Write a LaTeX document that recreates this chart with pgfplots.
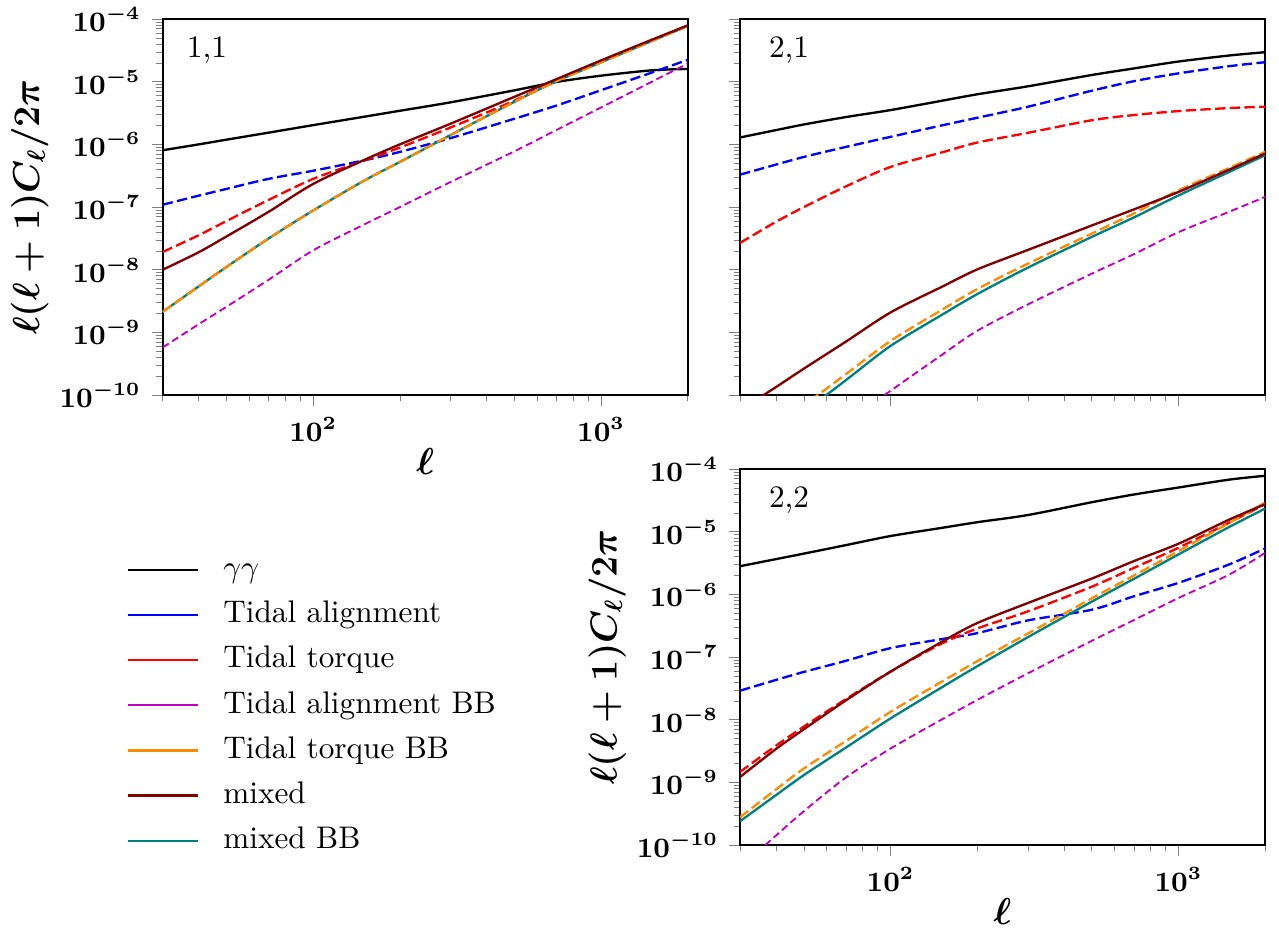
\documentclass[border=0pt]{standalone}
\usepackage{pgfplots}
\pgfplotsset{compat=1.18}

\definecolor{cTA}{rgb}{0,0,1}
\definecolor{cTT}{rgb}{1,0,0}
\definecolor{cTAB}{rgb}{0.75,0,0.75}
\definecolor{cTTB}{RGB}{255,140,0}
\definecolor{cMix}{RGB}{128,0,0}
\definecolor{cMixB}{RGB}{0,128,128}

\pgfplotsset{
  every axis/.append style={
    scale only axis, width=168pt, height=120.3pt,
    xmode=log, ymode=log, xmin=30, xmax=2000, ymin=1e-10, ymax=1e-4,
    xtick={100,1000},
    minor xtick={30,40,50,60,70,80,90,200,300,400,500,600,700,800,900,2000},
    ytick={1e-10,1e-9,1e-8,1e-7,1e-6,1e-5,1e-4},
    minor ytick={2e-10,3e-10,4e-10,5e-10,6e-10,7e-10,8e-10,9e-10,
                 2e-9,3e-9,4e-9,5e-9,6e-9,7e-9,8e-9,9e-9,
                 2e-8,3e-8,4e-8,5e-8,6e-8,7e-8,8e-8,9e-8,
                 2e-7,3e-7,4e-7,5e-7,6e-7,7e-7,8e-7,9e-7,
                 2e-6,3e-6,4e-6,5e-6,6e-6,7e-6,8e-6,9e-6,
                 2e-5,3e-5,4e-5,5e-5,6e-5,7e-5,8e-5,9e-5},
    tick align=outside, tick pos=left,
    major tick length=3.5pt, minor tick length=2pt,
    axis line style={line width=0.65pt},
    tick label style={font=\fontsize{9.2}{11}\selectfont\boldmath},
    label style={font=\fontsize{12}{14}\selectfont\boldmath},
    xlabel style={at={(axis description cs:0.5,-0.176)}, anchor=center},
    ylabel style={at={(axis description cs:-0.253,0.5)}, anchor=center},
  },
}
\tikzset{
  gg/.style={black, line width=0.75pt, smooth},
  ta/.style={cTA, line width=0.75pt, dash pattern=on 3.3pt off 1.4pt, smooth},
  tt/.style={cTT, line width=0.75pt, dash pattern=on 3.3pt off 1.4pt, smooth},
  tab/.style={cTAB, line width=0.6pt, dash pattern=on 2.3pt off 1.3pt, smooth},
  ttb/.style={cTTB, line width=0.75pt, dash pattern=on 3.3pt off 1.4pt, smooth},
  mix/.style={cMix, line width=0.75pt, smooth},
  mixb/.style={cMixB, line width=0.75pt, smooth},
  plabel/.style={anchor=base west, inner sep=0pt, font=\fontsize{10}{12}\selectfont},
}

\begin{document}
\begin{tikzpicture}
\useasboundingbox (-52.06pt,-170.6pt) rectangle (357.2pt,126.4pt);

% ---------- 1,1 ----------
\begin{axis}[at={(0pt,0pt)}, anchor=south west,
    xlabel={$\ell$}, ylabel={$\ell(\ell+1)C_\ell/2\pi$},
    legend style={at={(axis description cs:-0.07,-0.4255)}, anchor=north west,
        draw=none, fill=none, inner sep=0pt, row sep=5.46pt, column sep=7.8pt,
        font=\fontsize{10}{12}\selectfont,
        nodes={inner sep=0pt, text height=7pt, text depth=2pt}},
    legend cell align=left,
    legend image code/.code={\draw[#1, line width=0.75pt] (0pt,0pt) -- (22.4pt,0pt);}]
\addplot[gg, forget plot] coordinates {(30,8.07e-7) (40,1.0e-6) (50,1.19e-6) (70,1.54e-6) (100,2.03e-6) (150,2.76e-6) (200,3.44e-6) (300,4.69e-6) (500,7.29e-6) (700,9.91e-6) (1000,1.25e-5) (1500,1.52e-5) (2000,1.60e-5)};
\addplot[ta, forget plot] coordinates {(30,1.09e-7) (40,1.52e-7) (50,1.95e-7) (70,2.82e-7) (100,3.8e-7) (150,5.55e-7) (200,7.59e-7) (300,1.26e-6) (500,2.57e-6) (700,4.17e-6) (1000,7.33e-6) (1500,1.4e-5) (2000,2.24e-5)};
\addplot[tt, forget plot] coordinates {(30,1.92e-8) (40,3.55e-8) (50,6.0e-8) (70,1.3e-7) (100,2.82e-7) (150,5.5e-7) (200,8.91e-7) (300,1.86e-6) (500,5.0e-6) (700,1.05e-5) (1000,2.09e-5) (1500,4.52e-5) (2000,7.76e-5)};
\addplot[tab, forget plot] coordinates {(30,5.75e-10) (40,1.35e-9) (50,2.57e-9) (70,6.92e-9) (100,2.04e-8) (150,5.25e-8) (200,1.0e-7) (300,2.51e-7) (500,7.76e-7) (700,1.7e-6) (1000,3.89e-6) (1500,1.0e-5) (2000,1.95e-5)};
\addplot[mixb, forget plot] coordinates {(30,2.13e-9) (40,5.42e-9) (50,1.11e-8) (70,3.15e-8) (100,8.83e-8) (150,2.63e-7) (200,5.25e-7) (300,1.41e-6) (500,4.79e-6) (700,1.02e-5) (1000,2.04e-5) (1500,4.47e-5) (2000,7.82e-5)};
\addplot[ttb, forget plot] coordinates {(30,2.13e-9) (40,5.42e-9) (50,1.11e-8) (70,3.15e-8) (100,8.83e-8) (150,2.63e-7) (200,5.25e-7) (300,1.41e-6) (500,4.79e-6) (700,1.02e-5) (1000,2.04e-5) (1500,4.47e-5) (2000,7.82e-5)};
\addplot[mix, forget plot] coordinates {(30,1.0e-8) (40,1.9e-8) (50,3.4e-8) (70,8.4e-8) (100,2.34e-7) (150,5.62e-7) (200,1.0e-6) (300,2.14e-6) (500,5.75e-6) (700,1.1e-5) (1000,2.19e-5) (1500,4.68e-5) (2000,7.94e-5)};
\node[plabel] at (axis description cs:0.045,0.899) {1,1};
\addlegendimage{black}
\addlegendimage{cTA}
\addlegendimage{cTT}
\addlegendimage{cTAB}
\addlegendimage{cTTB}
\addlegendimage{cMix}
\addlegendimage{cMixB}
\legend{$\gamma\gamma$, Tidal alignment, Tidal torque, Tidal alignment BB, Tidal torque BB, mixed, mixed BB}
\end{axis}

% ---------- 2,1 ----------
\begin{axis}[at={(184.74pt,0pt)}, anchor=south west, xticklabels={}, yticklabels={}]
\addplot[gg] coordinates {(30,1.29e-6) (40,1.69e-6) (50,2.08e-6) (70,2.73e-6) (100,3.53e-6) (150,4.95e-6) (200,6.3e-6) (300,8.45e-6) (500,1.28e-5) (700,1.63e-5) (1000,2.1e-5) (1500,2.62e-5) (2000,2.96e-5)};
\addplot[ta] coordinates {(30,3.29e-7) (40,4.76e-7) (50,6.31e-7) (70,9.12e-7) (100,1.32e-6) (150,2.0e-6) (200,2.66e-6) (300,3.99e-6) (500,7.19e-6) (700,1.02e-5) (1000,1.36e-5) (1500,1.77e-5) (2000,2.05e-5)};
\addplot[tt] coordinates {(30,2.68e-8) (40,5.82e-8) (50,1.0e-7) (70,2.14e-7) (100,4.37e-7) (150,7.41e-7) (200,1.07e-6) (300,1.53e-6) (500,2.43e-6) (700,2.94e-6) (1000,3.4e-6) (1500,3.8e-6) (2000,3.99e-6)};
\addplot[tab] coordinates {(30,1.93e-12) (40,5.35e-12) (50,1.17e-11) (70,3.64e-11) (100,1.17e-10) (150,4.31e-10) (200,1.06e-9) (300,2.79e-9) (500,8.65e-9) (700,1.77e-8) (1000,3.97e-8) (1500,8.41e-8) (2000,1.45e-7)};
\addplot[mixb] coordinates {(30,8.2e-12) (40,2.37e-11) (50,5.33e-11) (70,1.73e-10) (100,6.08e-10) (150,1.88e-9) (200,4.08e-9) (300,1.08e-8) (500,3.34e-8) (700,6.82e-8) (1000,1.53e-7) (1500,3.63e-7) (2000,6.71e-7)};
\addplot[ttb] coordinates {(30,1.12e-11) (40,3.1e-11) (50,6.82e-11) (70,2.16e-10) (100,7.31e-10) (150,2.26e-9) (200,4.91e-9) (300,1.25e-8) (500,3.78e-8) (700,7.91e-8) (1000,1.85e-7) (1500,4.21e-7) (2000,7.59e-7)};
\addplot[mix] coordinates {(30,5.74e-11) (40,1.34e-10) (50,2.64e-10) (70,7.13e-10) (100,2.08e-9) (150,5.28e-9) (200,1.01e-8) (300,2.07e-8) (500,5.08e-8) (700,9.16e-8) (1000,1.74e-7) (1500,3.95e-7) (2000,7.14e-7)};
\node[plabel] at (axis description cs:0.054,0.899) {2,1};
\end{axis}

% ---------- 2,2 ----------
\begin{axis}[at={(184.74pt,-144pt)}, anchor=south west,
    xlabel={$\ell$}, ylabel={$\ell(\ell+1)C_\ell/2\pi$}]
\addplot[gg] coordinates {(30,2.82e-6) (40,3.66e-6) (50,4.48e-6) (70,6.12e-6) (100,8.55e-6) (150,1.15e-5) (200,1.42e-5) (300,1.85e-5) (500,2.96e-5) (700,3.93e-5) (1000,5.08e-5) (1500,6.79e-5) (2000,7.82e-5)};
\addplot[ta] coordinates {(30,2.91e-8) (40,4.32e-8) (50,5.8e-8) (70,8.73e-8) (100,1.39e-7) (150,1.93e-7) (200,2.41e-7) (300,3.85e-7) (500,5.7e-7) (700,9.33e-7) (1000,1.53e-6) (1500,3.01e-6) (2000,5.42e-6)};
\addplot[tt] coordinates {(30,1.47e-9) (40,3.87e-9) (50,7.8e-9) (70,2.14e-8) (100,5.86e-8) (150,1.63e-7) (200,2.86e-7) (300,5.37e-7) (500,1.33e-6) (700,2.65e-6) (1000,5.56e-6) (1500,1.4e-5) (2000,2.75e-5)};
\addplot[tab] coordinates {(30,4.35e-11) (40,1.42e-10) (50,3.48e-10) (70,1.2e-9) (100,3.47e-9) (150,9.98e-9) (200,2.07e-8) (300,5.51e-8) (500,1.82e-7) (700,3.9e-7) (1000,8.77e-7) (1500,2.07e-6) (2000,4.61e-6)};
\addplot[mixb] coordinates {(30,2.4e-10) (40,6.27e-10) (50,1.31e-9) (70,3.6e-9) (100,1.05e-8) (150,3.25e-8) (200,7.14e-8) (300,2.08e-7) (500,7.67e-7) (700,1.77e-6) (1000,4.35e-6) (1500,1.19e-5) (2000,2.34e-5)};
\addplot[ttb] coordinates {(30,2.78e-10) (40,7.73e-10) (50,1.67e-9) (70,4.59e-9) (100,1.34e-8) (150,4.01e-8) (200,8.59e-8) (300,2.38e-7) (500,8.67e-7) (700,2.0e-6) (1000,4.91e-6) (1500,1.38e-5) (2000,2.92e-5)};
\addplot[mix] coordinates {(30,1.22e-9) (40,3.42e-9) (50,7.06e-9) (70,2.04e-8) (100,5.86e-8) (150,1.73e-7) (200,3.49e-7) (300,7.3e-7) (500,1.79e-6) (700,3.4e-6) (1000,6.44e-6) (1500,1.56e-5) (2000,2.75e-5)};
\node[plabel] at (axis description cs:0.054,0.899) {2,2};
\end{axis}
\end{tikzpicture}
\end{document}
